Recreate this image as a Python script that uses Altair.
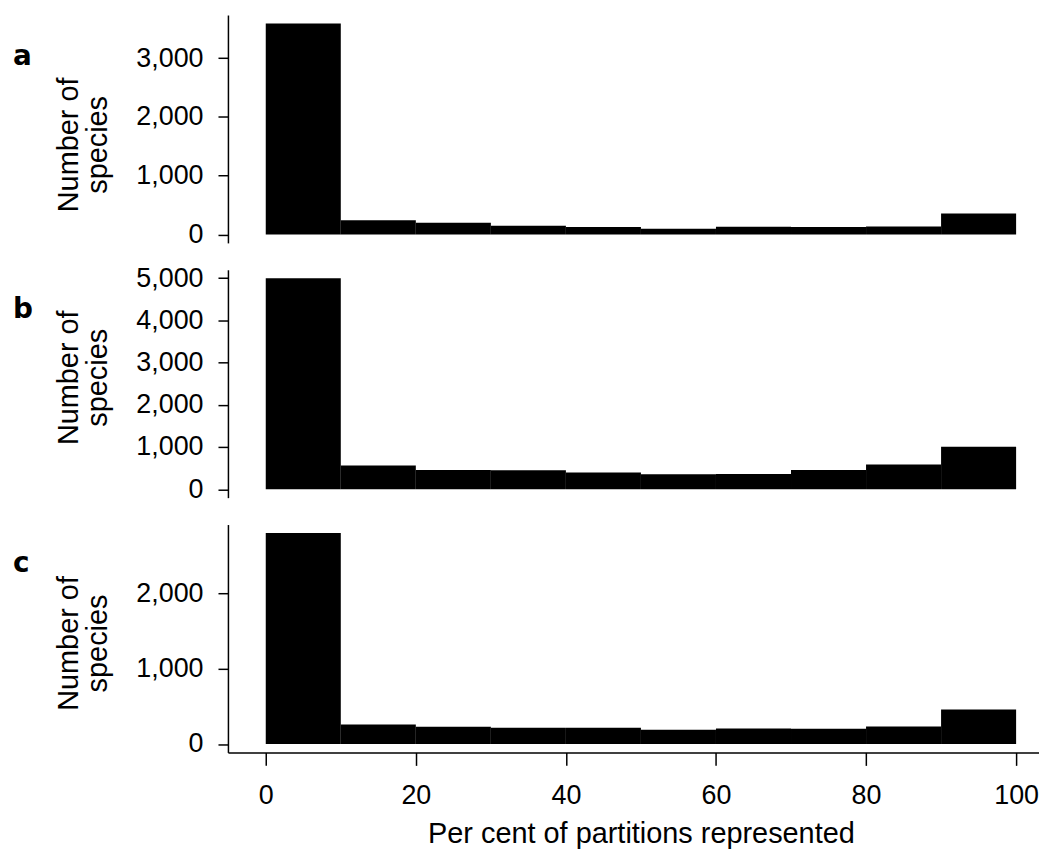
import altair as alt
import pandas as pd

# ---- data ----
bin_start = [0, 10, 20, 30, 40, 50, 60, 70, 80, 90]
bin_end = [10, 20, 30, 40, 50, 60, 70, 80, 90, 100]
counts_a = [3590, 243, 198, 147, 125, 96, 130, 125, 136, 357]
counts_b = [5000, 560, 457, 450, 394, 355, 363, 457, 584, 1009]
counts_c = [2800, 260, 229, 216, 216, 189, 207, 203, 233, 458]
panel_labels = ["a", "b", "c"]
y_ticks_a = [0, 1000, 2000, 3000]
y_ticks_b = [0, 1000, 2000, 3000, 4000, 5000]
y_ticks_c = [0, 1000, 2000]
x_ticks = [0, 20, 40, 60, 80, 100]
y_title = ["Number of", "species"]
x_title = "Per cent of partitions represented"

FONT = "Liberation Sans"
W = 815
H = 229
X_DOMAIN = [-5.04, 103.05]


def panel(counts, ticks, label, title_y, label_y, show_x):
    df = pd.DataFrame({"start": bin_start, "end": bin_end,
                       "count": counts, "base": [0] * len(counts)})
    top = max(counts)
    ext = 0.04 * top
    if show_x:
        xaxis = alt.Axis(values=x_ticks, title=x_title, tickSize=13,
                         labelPadding=17, labelFlush=False,
                         titleX=415, titleY=91, titleAlign="center",
                         titleBaseline="alphabetic")
    else:
        xaxis = None
    bars = alt.Chart(df).mark_rect(color="black").encode(
        x=alt.X("start:Q", scale=alt.Scale(domain=X_DOMAIN, nice=False, zero=False),
                axis=xaxis),
        x2="end:Q",
        y=alt.Y("count:Q",
                scale=alt.Scale(domain=[-ext, top + ext], nice=False, zero=False),
                axis=alt.Axis(values=ticks, format=",d", title=y_title,
                              tickSize=10, labelPadding=15, labelOverlap=False,
                              titleAngle=270, titleX=-160, titleY=title_y,
                              titleAlign="center", titleBaseline="middle",
                              titleLineHeight=29)),
        y2="base:Q",
    )
    lab = alt.Chart(pd.DataFrame({"label": [label]})).mark_text(
        font="DejaVu Sans", fontWeight="bold", fontSize=28,
        align="left", baseline="alphabetic", color="black"
    ).encode(text="label:N", x=alt.value(-216), y=alt.value(label_y))
    return alt.layer(bars, lab).properties(width=W, height=H)


pa = panel(counts_a, y_ticks_a, panel_labels[0], 130, 50, False)
pb = panel(counts_b, y_ticks_b, panel_labels[1], 108, 48, False)
pc = panel(counts_c, y_ticks_c, panel_labels[2], 119, 48, True)

chart = alt.vconcat(pa, pb, pc, spacing=27, bounds="flush").properties(
    padding={"left": 5, "top": 5, "right": 0, "bottom": 0}
).configure_view(stroke=None).configure_axis(
    grid=False, domainColor="black", tickColor="black",
    labelColor="black", titleColor="black",
    labelFont=FONT, titleFont=FONT, labelFontSize=27, titleFontSize=29,
    titleFontWeight="normal", domainWidth=1.5, tickWidth=1.5
)

chart.save("out.html", embed_options={"renderer": "svg", "actions": False})
